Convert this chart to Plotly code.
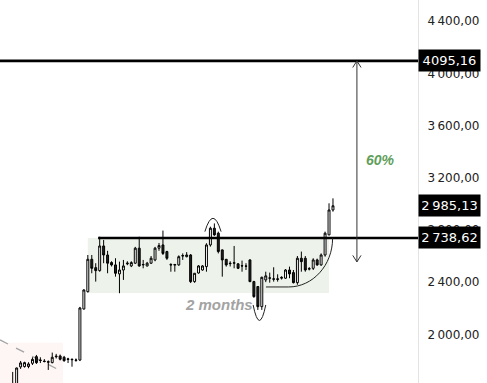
import plotly.graph_objects as go

# ---- data ----
opens = [1600, 1610, 1750, 1753, 1753, 1778, 1829, 1803, 1795, 1790, 1783, 1828, 1834, 1824, 1812, 1810, 1800,
         1803, 2194, 2327, 2575, 2511, 2488, 2677, 2608, 2550, 2532, 2463, 2493, 2540, 2524, 2545, 2660, 2532,
         2524, 2545, 2570, 2660, 2685, 2634, 2535, 2530, 2532, 2600, 2595, 2608, 2404, 2470, 2493, 2519, 2685,
         2813, 2775, 2647, 2575, 2545, 2545, 2540, 2526, 2524, 2570, 2404, 2366, 2212, 2417, 2430, 2425, 2420,
         2430, 2430, 2493, 2473, 2396, 2583, 2583, 2500, 2506, 2570, 2532, 2608, 2762, 2953]
highs = [1712, 1745, 1796, 1790, 1786, 1824, 1842, 1824, 1810, 1800, 1860, 1850, 1845, 1835, 1820, 1812, 1815,
         2210, 2345, 2608, 2608, 2545, 2748, 2723, 2640, 2560, 2583, 2557, 2570, 2560, 2560, 2670, 2748, 2570,
         2555, 2600, 2670, 2700, 2795, 2640, 2545, 2540, 2605, 2620, 2630, 2615, 2470, 2530, 2530, 2698, 2825,
         2850, 2787, 2650, 2577, 2560, 2677, 2545, 2565, 2545, 2575, 2410, 2370, 2442, 2480, 2473, 2514, 2460,
         2445, 2500, 2519, 2493, 2600, 2634, 2600, 2515, 2583, 2580, 2620, 2787, 3004, 3042]
lows = [1590, 1600, 1735, 1745, 1740, 1765, 1773, 1780, 1785, 1727, 1778, 1815, 1800, 1790, 1780, 1752, 1790,
        1795, 2190, 2320, 2468, 2404, 2480, 2545, 2468, 2520, 2442, 2315, 2417, 2530, 2515, 2540, 2518, 2506,
        2520, 2540, 2560, 2640, 2608, 2570, 2480, 2480, 2525, 2570, 2590, 2393, 2395, 2465, 2488, 2480, 2672,
        2755, 2620, 2442, 2519, 2520, 2506, 2500, 2480, 2493, 2400, 2280, 2187, 2187, 2400, 2396, 2404, 2404,
        2420, 2425, 2430, 2390, 2380, 2480, 2480, 2490, 2493, 2525, 2525, 2595, 2760, 2940]
closes = [1620, 1742, 1781, 1783, 1773, 1808, 1783, 1800, 1792, 1787, 1824, 1832, 1809, 1798, 1808, 1806, 1803,
          2202, 2340, 2575, 2506, 2488, 2677, 2608, 2545, 2532, 2468, 2493, 2524, 2545, 2550, 2660, 2524, 2535,
          2545, 2583, 2660, 2680, 2620, 2583, 2532, 2535, 2595, 2603, 2608, 2404, 2468, 2524, 2524, 2685, 2813,
          2762, 2634, 2570, 2532, 2542, 2548, 2506, 2524, 2522, 2404, 2289, 2212, 2437, 2448, 2432, 2423, 2425,
          2436, 2493, 2463, 2396, 2583, 2557, 2493, 2503, 2570, 2532, 2608, 2775, 2953, 2985.13]
bars = list(range(len(closes)))

tick_vals = [1600, 2000, 2400, 2800, 3200, 3600, 4000, 4400]
tick_text = ["1\u202f600,00", "2\u202f000,00", "2\u202f400,00", "2\u202f800,00",
             "3\u202f200,00", "3\u202f600,00", "4\u202f000,00", "4\u202f400,00"]

target_level = 4095.16
breakout_level = 2738.62
last_price = 2985.13
target_label = "4095,16"
breakout_label = "2\u202f738,62"
last_label = "2\u202f985,13"

X_RANGE = [-3.21, 102.5]
Y_RANGE = [1627, 4562]

fig = go.Figure()

shapes = [
    dict(type="rect", xref="x", yref="y", x0=19.0, x1=80.0, y0=2317, y1=breakout_level,
         fillcolor="#edf3ea", line=dict(width=0), layer="below"),
    dict(type="rect", xref="x", yref="y", x0=-3.21, x1=12.7, y0=1600, y1=1935,
         fillcolor="#fdf6f4", line=dict(width=0), layer="below"),
    dict(type="line", xref="x", yref="y", x0=-3.21, x1=12.7, y0=1957, y1=1712,
         line=dict(color="#a5a5a5", width=1.3, dash="dash"), layer="below"),
    dict(type="line", xref="paper", yref="y", x0=0, x1=1, y0=target_level, y1=target_level,
         line=dict(color="#000000", width=2.6)),
    dict(type="line", xref="x", yref="y", x0=21.6, x1=X_RANGE[1], y0=breakout_level, y1=breakout_level,
         line=dict(color="#000000", width=2.6)),
    dict(type="line", xref="x", yref="y", x0=87.05, x1=87.05, y0=target_level, y1=2555,
         line=dict(color="#333333", width=1)),
    dict(type="path", xref="x", yref="y",
         path="M 86.0,4045 L 87.05,4095.16 L 88.1,4045",
         line=dict(color="#333333", width=1)),
    dict(type="path", xref="x", yref="y",
         path="M 86.0,2605 L 87.05,2555 L 88.1,2605",
         line=dict(color="#333333", width=1)),
    dict(type="path", xref="x", yref="y",
         path="M 48.6,2787 Q 50.65,2991 52.7,2787",
         line=dict(color="#222222", width=1)),
    dict(type="path", xref="x", yref="y",
         path="M 60.8,2225 Q 62.4,1988 64.0,2225",
         line=dict(color="#222222", width=1)),
    dict(type="path", xref="x", yref="y",
         path="M 64.05,2363 L 69.8,2363 C 75.9,2363 80.9,2530 80.9,2736",
         line=dict(color="#222222", width=1)),
]

fig.add_trace(go.Candlestick(
    x=bars, open=opens, high=highs, low=lows, close=closes,
    increasing=dict(line=dict(color="#000000", width=1), fillcolor="#ffffff"),
    decreasing=dict(line=dict(color="#000000", width=1), fillcolor="#222222"),
    whiskerwidth=0, hoverinfo="skip", showlegend=False,
))

annotations = [
    dict(xref="x", yref="y", x=93.1, y=3336, text="<b><i>60%</i></b>", showarrow=False,
         font=dict(family="Liberation Sans, Arial", size=14, color="#5f9e5a")),
    dict(xref="x", yref="y", x=52.2, y=2225, text="<b><i>2 months</i></b>", showarrow=False,
         font=dict(family="Liberation Sans, Arial", size=15, color="#a3a3a3")),
]
for lvl, lab in [(target_level, target_label), (last_price, last_label), (breakout_level, breakout_label)]:
    annotations.append(dict(
        xref="paper", yref="y", x=1, y=lvl, xanchor="left", yanchor="middle",
        text=lab, showarrow=False, bgcolor="#000000", borderpad=3, width=55, align="center",
        font=dict(family="DejaVu Sans", size=13, color="#ffffff"),
    ))

fig.update_layout(
    width=487, height=383,
    margin=dict(l=0, r=69, t=0, b=0),
    paper_bgcolor="#ffffff", plot_bgcolor="#ffffff",
    shapes=shapes, annotations=annotations,
    showlegend=False,
    xaxis=dict(range=X_RANGE, visible=False, rangeslider=dict(visible=False), fixedrange=True),
    yaxis=dict(range=Y_RANGE, side="right", tickvals=tick_vals, ticktext=tick_text,
               showgrid=False, zeroline=False, showline=True, linecolor="#e3e3e3", linewidth=1,
               ticks="", ticklabelstandoff=6,
               tickfont=dict(family="DejaVu Sans", size=12, color="#222222"), fixedrange=True),
)

fig.write_html("out.html")
